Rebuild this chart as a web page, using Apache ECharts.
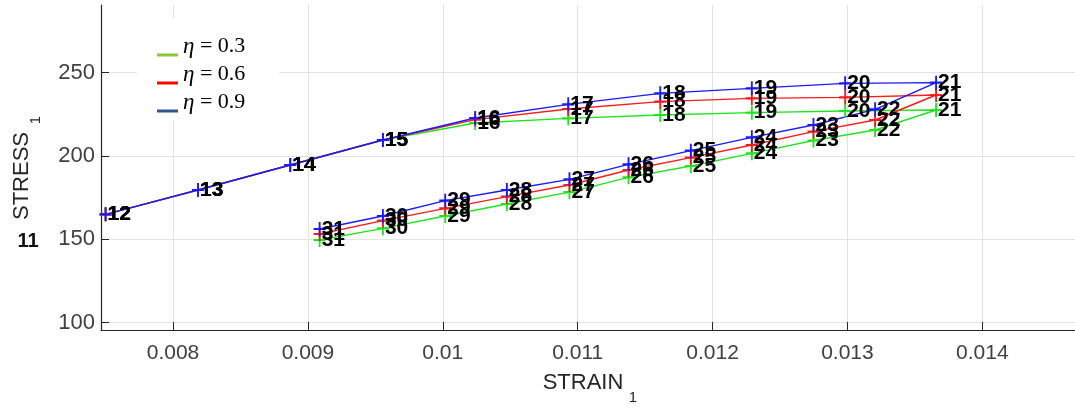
<!DOCTYPE html>
<html>
<head>
<meta charset="utf-8">
<title>Stress-strain response</title>
<script src="https://cdn.jsdelivr.net/npm/echarts@6/dist/echarts.min.js"></script>
<style>
  html, body { margin: 0; padding: 0; background: #ffffff; }
  #chart { width: 1075px; height: 410px; }
</style>
</head>
<body>
<div id="chart"></div>
<script>
// Increment numbers printed next to each point
const pointIds = ['12','13','14','15','16','17','18','19','20','21',
                  '22','23','24','25','26','27','28','29','30','31'];

// STRAIN_1 at each increment (shared by all three runs)
const strain = [0.0075, 0.008185, 0.008869, 0.009556, 0.01024, 0.01093, 0.011612, 0.012291, 0.012983, 0.013657,
                0.013205, 0.012748, 0.012291, 0.011839, 0.011377, 0.010939, 0.010475, 0.010018, 0.009556, 0.009087];

// STRESS_11 for each damping ratio
const stressEta03 = [165.0, 179.6, 194.6, 209.6, 219.8, 222.6, 224.6, 226.0, 227.0, 227.6,
                     215.6, 209.3, 201.6, 194.0, 187.2, 178.3, 171.2, 164.0, 156.6, 149.6];
const stressEta06 = [165.0, 179.6, 194.6, 209.6, 221.8, 228.2, 232.6, 234.6, 235.2, 236.6,
                     221.6, 214.6, 206.6, 199.0, 191.6, 182.6, 175.6, 168.6, 161.2, 153.2];
const stressEta09 = [165.0, 179.6, 194.6, 209.6, 222.8, 231.0, 237.6, 240.6, 243.6, 244.0,
                     228.0, 218.6, 211.2, 203.2, 195.0, 186.0, 179.6, 173.2, 164.0, 156.2];

const seriesNames = ['η = 0.3', 'η = 0.6', 'η = 0.9'];
const xTicks = [0.008, 0.009, 0.01, 0.011, 0.012, 0.013, 0.014];
const yTicks = [100, 150, 200, 250];

const lineColors = ['#1ee61e', '#ff1a1a', '#1a1aff'];
const legendColors = ['#8cc63f', '#ff0000', '#2f5597'];

const crossPath = 'path://M5.5,0H7.5V5.5H13V7.5H7.5V13H5.5V7.5H0V5.5H5.5Z';

function makeSeries(name, values, color) {
  return {
    name: name,
    type: 'line',
    data: strain.map((x, i) => [x, values[i]]),
    symbol: crossPath,
    symbolSize: [12, 14],
    showAllSymbol: true,
    lineStyle: { color: color, width: 1.4 },
    itemStyle: { color: color },
    label: {
      show: true,
      position: 'right',
      distance: -4,
      color: '#000000',
      fontFamily: 'Liberation Sans',
      fontWeight: 'bold',
      fontSize: 21,
      formatter: p => pointIds[p.dataIndex]
    },
    emphasis: { disabled: true },
    z: 2
  };
}

const chart = echarts.init(document.getElementById('chart'), null, { renderer: 'canvas' });

chart.setOption({
  animation: false,
  backgroundColor: '#ffffff',
  grid: { left: 101, right: 0, top: 5, bottom: 80, containLabel: false },
  xAxis: {
    type: 'value',
    min: 0.007466,
    max: 0.014687,
    axisLine: { show: true, onZero: false, lineStyle: { color: '#262626', width: 1.2 } },
    axisTick: { show: true, inside: true, length: 8, customValues: xTicks, lineStyle: { color: '#262626' } },
    axisLabel: {
      customValues: xTicks,
      color: '#404040',
      fontFamily: 'Liberation Sans',
      fontSize: 21,
      margin: 13,
      formatter: v => String(+v.toFixed(3))
    },
    splitLine: { show: true, lineStyle: { color: '#e3e3e3', width: 1 } }
  },
  yAxis: {
    type: 'value',
    min: 95.6,
    max: 290.6,
    axisLine: { show: true, onZero: false, lineStyle: { color: '#262626', width: 1.2 } },
    axisTick: { show: true, inside: true, length: 8, customValues: yTicks, lineStyle: { color: '#262626' } },
    axisLabel: {
      customValues: yTicks,
      color: '#404040',
      fontFamily: 'Liberation Sans',
      fontSize: 22,
      margin: 6
    },
    splitLine: { show: true, lineStyle: { color: '#e3e3e3', width: 1 } }
  },
  legend: {
    left: 137,
    top: 18,
    orient: 'vertical',
    backgroundColor: '#ffffff',
    padding: [17, 34, 6, 20],
    itemGap: 5,
    itemWidth: 21,
    itemHeight: 3,
    icon: 'rect',
    selectedMode: false,
    data: seriesNames.map((n, i) => ({ name: n, itemStyle: { color: legendColors[i] } })),
    formatter: n => '{e|η}{t|' + n.slice(1) + '}',
    textStyle: {
      padding: [0, 0, 17, 0],
      rich: {
        e: { fontFamily: 'Liberation Serif', fontStyle: 'italic', fontSize: 23, color: '#000' },
        t: { fontFamily: 'Liberation Serif', fontSize: 22, color: '#000' }
      }
    }
  },
  graphic: [
    { type: 'text', x: 583, y: 383, z: 10,
      style: { text: 'STRAIN', font: '22px "Liberation Sans"', fill: '#262626', align: 'center', verticalAlign: 'middle' } },
    { type: 'text', x: 633, y: 398, z: 10,
      style: { text: '1', font: '15px "Liberation Sans"', fill: '#262626', align: 'center', verticalAlign: 'middle' } },
    { type: 'text', x: 22, y: 176, rotation: Math.PI / 2, z: 10,
      style: { text: 'STRESS', font: '22px "Liberation Sans"', fill: '#262626', align: 'center', verticalAlign: 'middle' } },
    { type: 'text', x: 36, y: 120, rotation: Math.PI / 2, z: 10,
      style: { text: '1', font: '15px "Liberation Sans"', fill: '#262626', align: 'center', verticalAlign: 'middle' } },
    { type: 'text', x: 28, y: 241, z: 10,
      style: { text: '11', font: 'bold 20px "Liberation Sans"', fill: '#111111', align: 'center', verticalAlign: 'middle' } }
  ],
  series: [
    makeSeries(seriesNames[0], stressEta03, lineColors[0]),
    makeSeries(seriesNames[1], stressEta06, lineColors[1]),
    makeSeries(seriesNames[2], stressEta09, lineColors[2])
  ]
});
</script>
</body>
</html>
